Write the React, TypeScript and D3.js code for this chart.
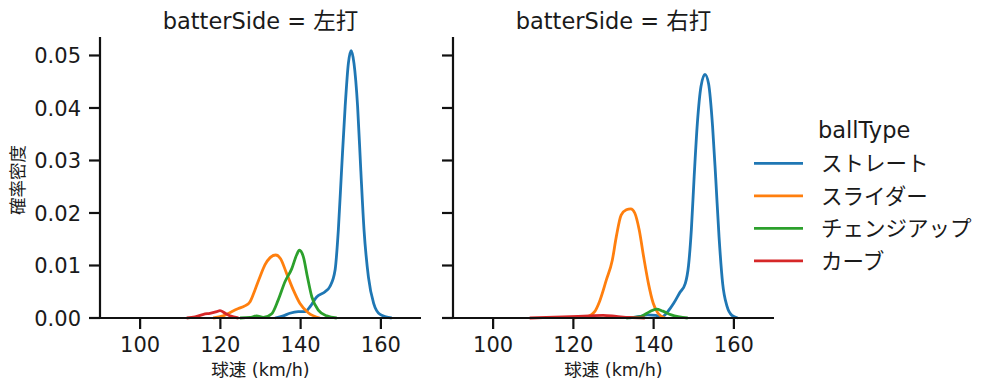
import React from "react";
import * as d3 from "d3";

const ballTypes = ["ストレート", "スライダー", "チェンジアップ", "カーブ"];
const colors = ["#1f77b4", "#ff7f0e", "#2ca02c", "#d62728"];
const panels = ["左打", "右打"];
const xTicks = [100, 120, 140, 160];
const yTicks = [0, 0.01, 0.02, 0.03, 0.04, 0.05];

// [speed, density]
const leftStraight: [number, number][] = [
  [133.6, 0], [135.7, 0.0004], [137.3, 0.0009], [139.4, 0.0012], [141.1, 0.0012],
  [142.3, 0.0021], [144.0, 0.004], [146.1, 0.005], [147.3, 0.006], [148.6, 0.0092],
  [149.4, 0.0168], [150.2, 0.0281], [151.1, 0.0403], [151.9, 0.0485], [152.6, 0.0509],
  [153.3, 0.0485], [154.2, 0.0403], [155.0, 0.0281], [155.8, 0.0168], [156.9, 0.0078],
  [158.2, 0.0028], [159.8, 0.0007], [162.7, 0],
];
const leftSlider: [number, number][] = [
  [118.2, 0], [120.7, 0.0004], [122.8, 0.0012], [124.5, 0.0018], [126.1, 0.0023],
  [127.4, 0.0031], [128.6, 0.0053], [129.9, 0.0079], [131.1, 0.0101], [132.4, 0.0115],
  [133.8, 0.012], [135.0, 0.0113], [136.5, 0.0085], [138.2, 0.0053], [139.8, 0.0028],
  [141.9, 0.001], [144.8, 0],
];
const leftChangeup: [number, number][] = [
  [124.9, 0], [127.4, 0.0001], [129.0, 0.0004], [130.7, 0.0001], [132.8, 0.0008],
  [134.4, 0.0034], [136.1, 0.0069], [137.8, 0.0094], [139.0, 0.012], [139.7, 0.0129],
  [140.7, 0.0116], [141.7, 0.0078], [142.8, 0.004], [144.4, 0.0015], [146.5, 0.0004],
  [149.0, 0],
];
const leftCurve: [number, number][] = [
  [111.6, 0], [113.7, 0.0002], [115.8, 0.0007], [117.4, 0.0009], [119.1, 0.0012],
  [119.9, 0.0014], [121.2, 0.0009], [122.4, 0.0004], [124.5, 0],
];
const rightStraight: [number, number][] = [
  [134.0, 0], [136.5, 0.0003], [138.5, 0.0006], [140.5, 0.0005], [142.0, 0.0002],
  [143.5, 0.0012], [145.0, 0.0028], [146.5, 0.0048], [147.9, 0.0066], [148.7, 0.01],
  [149.4, 0.0168], [150.1, 0.0269], [150.9, 0.0371], [151.8, 0.0441], [152.8, 0.0464],
  [153.7, 0.0446], [154.7, 0.0364], [155.5, 0.0263], [156.3, 0.0155], [157.2, 0.0066],
  [158.3, 0.0022], [159.5, 0.0005], [161.0, 0],
];
const rightSlider: [number, number][] = [
  [119.9, 0], [123.2, 0.0002], [125.3, 0.0012], [126.5, 0.0031], [128.2, 0.0072],
  [129.7, 0.011], [130.7, 0.0155], [131.9, 0.0196], [133.2, 0.0206], [134.3, 0.0208],
  [135.3, 0.02], [136.4, 0.0168], [137.5, 0.0117], [138.7, 0.0066], [139.9, 0.0028],
  [141.1, 0.0009], [142.8, 0],
];
const rightChangeup: [number, number][] = [
  [133.2, 0], [136.5, 0.0002], [139.0, 0.0012], [140.7, 0.0017], [142.3, 0.0013],
  [144.4, 0.0006], [148.5, 0],
];
const rightCurve: [number, number][] = [
  [109.1, 0], [117.4, 0.0002], [124.0, 0.0004], [127.4, 0.0005], [130.7, 0.0003],
  [134.0, 0.0001], [137.8, 0],
];

const panelData = [
  [leftStraight, leftSlider, leftChangeup, leftCurve],
  [rightStraight, rightSlider, rightChangeup, rightCurve],
];

const FONT = "'DejaVu Sans', 'Noto Sans CJK JP', sans-serif";
const W = 999;
const H = 391;
const top = 37;
const bottom = 318;
const panelLeft = [100, 453];
const panelWidth = 321;

export default function App() {
  const y = d3.scaleLinear().domain([0, 0.05352]).range([bottom, top]);
  return (
    <svg
      width={W}
      height={H}
      style={{ position: "absolute", left: 0, top: 0, background: "#fff" }}
      fontFamily={FONT}
    >
      {panels.map((p, pi) => {
        const x = d3
          .scaleLinear()
          .domain([90, 170])
          .range([panelLeft[pi], panelLeft[pi] + panelWidth]);
        const line = d3
          .line<[number, number]>()
          .x((d) => x(d[0]))
          .y((d) => y(d[1]))
          .curve(d3.curveMonotoneX);
        const cx = panelLeft[pi] + panelWidth / 2;
        return (
          <g key={p}>
            <text x={cx} y={28.5} fontSize={22.5} textAnchor="middle" fill="#1a1a1a">
              {`batterSide = ${p}`}
            </text>
            {panelData[pi].map((s, si) => (
              <path
                key={si}
                d={line(s) || ""}
                fill="none"
                stroke={colors[si]}
                strokeWidth={2.8}
                strokeLinejoin="round"
              />
            ))}
            <line
              x1={x(90)}
              x2={x(90)}
              y1={top}
              y2={bottom}
              stroke="#111"
              strokeWidth={2.2}
            />
            <line
              x1={x(90) - 1.1}
              x2={x(170)}
              y1={bottom}
              y2={bottom}
              stroke="#111"
              strokeWidth={2.2}
            />
            {xTicks.map((t) => (
              <g key={t}>
                <line x1={x(t)} x2={x(t)} y1={bottom} y2={bottom + 11} stroke="#111" strokeWidth={2.2} />
                <text x={x(t)} y={351.5} fontSize={21} textAnchor="middle" fill="#1a1a1a">
                  {t}
                </text>
              </g>
            ))}
            {yTicks.map((t) => (
              <g key={t}>
                <line
                  x1={x(90) - 11}
                  x2={x(90)}
                  y1={y(t)}
                  y2={y(t)}
                  stroke="#111"
                  strokeWidth={2.2}
                />
                {pi === 0 && (
                  <text
                    x={x(90) - 19}
                    y={y(t)}
                    dy="0.36em"
                    fontSize={21}
                    textAnchor="end"
                    fill="#1a1a1a"
                  >
                    {t.toFixed(2)}
                  </text>
                )}
              </g>
            ))}
            <text x={cx} y={376} fontSize={17.5} textAnchor="middle" fill="#1a1a1a">
              球速 (km/h)
            </text>
          </g>
        );
      })}
      <text
        transform={`translate(24, 180) rotate(-90)`}
        fontSize={17.5}
        textAnchor="middle"
        fill="#1a1a1a"
      >
        確率密度
      </text>
      <text x={818} y={138} fontSize={22.5} fill="#1a1a1a">
        ballType
      </text>
      {ballTypes.map((b, i) => (
        <g key={b}>
          <line x1={754} x2={803} y1={163.3 + i * 32.5} y2={163.3 + i * 32.5} stroke={colors[i]} strokeWidth={2.8} />
          <text x={821} y={163.3 + i * 32.5} dy="0.36em" fontSize={21.5} fill="#1a1a1a">
            {b}
          </text>
        </g>
      ))}
    </svg>
  );
}
